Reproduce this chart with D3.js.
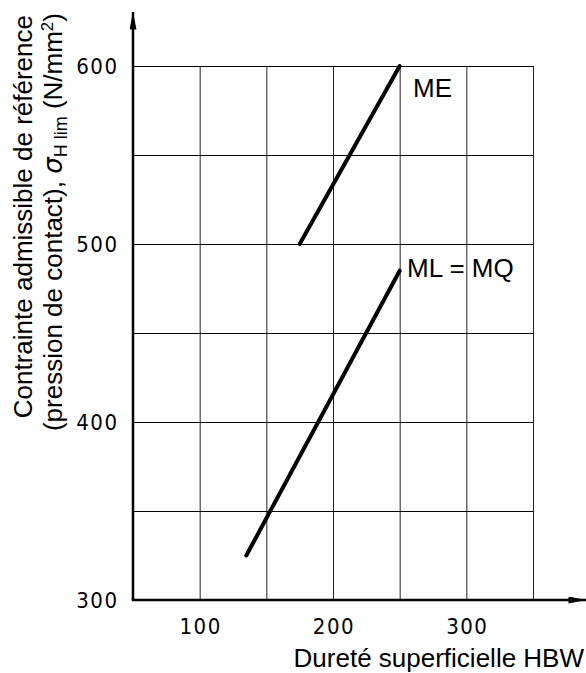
<!DOCTYPE html>
<html>
<head>
<meta charset="utf-8">
<script src="https://cdn.jsdelivr.net/npm/d3@7"></script>
<style>
  body { margin: 0; background: #fff; }
  .tick-label { font-family: "DejaVu Sans Condensed", "DejaVu Sans"; font-size: 22px; letter-spacing: 1.5px; fill: #000; }
  .title { font-family: "Liberation Sans", Arial, sans-serif; font-size: 26px; fill: #000; }
</style>
</head>
<body>
<svg id="chart" width="586" height="673"></svg>
<script>
//

const hardnessTicks = [100, 200, 300]
const stressTicks = [300, 400, 500, 600]
const gridX = [100, 150, 200, 250, 300, 350]
const gridY = [350, 400, 450, 500, 550, 600]

// material quality lines: [HBW, sigma_H lim]
const lineME = [[175, 500], [250, 600]]
const lineMLMQ = [[135, 325], [250, 485]]

const seriesNames = ['ME', 'ML = MQ']

//

const svg = d3.select('#chart')

const x = d3.scaleLinear().domain([50, 350]).range([133, 533])
const y = d3.scaleLinear().domain([300, 600]).range([600, 66])

// grid
svg.append('g')
  .attr('transform', `translate(0, ${y(300)})`)
  .call(d3.axisBottom(x).tickValues(gridX).tickSize(-(y(300) - y(600))).tickFormat(''))
  .call(g => g.select('.domain').remove())
  .call(g => g.selectAll('line').attr('stroke', '#222').attr('stroke-width', 1))

svg.append('g')
  .attr('transform', `translate(${x(50)}, 0)`)
  .call(d3.axisLeft(y).tickValues(gridY).tickSize(-(x(350) - x(50))).tickFormat(''))
  .call(g => g.select('.domain').remove())
  .call(g => g.selectAll('line').attr('stroke', '#000').attr('stroke-width', 1.2))

// arrows
const defs = svg.append('defs')
defs.append('marker')
  .attr('id', 'arrow')
  .attr('viewBox', '0 0 20 8')
  .attr('refX', 20).attr('refY', 4)
  .attr('markerUnits', 'userSpaceOnUse')
  .attr('markerWidth', 20).attr('markerHeight', 7)
  .attr('orient', 'auto')
  .append('path')
  .attr('d', 'M0,0 L20,4 L0,8 Z')
  .attr('fill', '#000')

// axes
svg.append('line')
  .attr('x1', x(50)).attr('y1', y(300))
  .attr('x2', x(50)).attr('y2', 12)
  .attr('stroke', '#000').attr('stroke-width', 2.5)
  .attr('marker-end', 'url(#arrow)')

svg.append('line')
  .attr('x1', x(50) - 1.25).attr('y1', y(300))
  .attr('x2', 586).attr('y2', y(300))
  .attr('stroke', '#000').attr('stroke-width', 2.5)
  .attr('marker-end', 'url(#arrow)')

// tick labels
svg.append('g').selectAll('text')
  .data(stressTicks)
  .join('text')
  .attr('class', 'tick-label')
  .attr('x', 118.5)
  .attr('y', d => y(d) + 8)
  .attr('text-anchor', 'end')
  .text(d => d)

svg.append('g').selectAll('text')
  .data(hardnessTicks)
  .join('text')
  .attr('class', 'tick-label')
  .attr('x', d => x(d) + 1)
  .attr('y', 634)
  .attr('text-anchor', 'middle')
  .text(d => d)

// data lines
const line = d3.line().x(d => x(d[0])).y(d => y(d[1]))
svg.selectAll('.series')
  .data([lineME, lineMLMQ])
  .join('path')
  .attr('class', 'series')
  .attr('d', line)
  .attr('fill', 'none')
  .attr('stroke', '#000')
  .attr('stroke-width', 4)
  .attr('stroke-linecap', 'round')

// series labels
svg.append('text').attr('class', 'title')
  .attr('x', 413).attr('y', 97)
  .text(seriesNames[0])

svg.append('text').attr('class', 'title')
  .attr('x', 407).attr('y', 277)
  .text(seriesNames[1])

// axis titles
svg.append('text').attr('class', 'title')
  .attr('x', 584).attr('y', 667)
  .attr('text-anchor', 'end')
  .text('Dureté superficielle HBW')

const yTitle = svg.append('g').attr('transform', 'rotate(-90)')
yTitle.append('text').attr('class', 'title')
  .attr('x', -15).attr('y', 32)
  .attr('text-anchor', 'end')
  .text('Contrainte admissible de référence')

const t2 = yTitle.append('text').attr('class', 'title')
  .attr('x', -13).attr('y', 62)
  .attr('text-anchor', 'end')
t2.append('tspan').text('(pression de contact),  ')
t2.append('tspan').attr('font-family', 'DejaVu Sans').attr('font-style', 'italic').text('σ')
t2.append('tspan').attr('font-size', 18).attr('dy', 5).text('H lim')
t2.append('tspan').attr('dy', -5).text(' (N/mm')
t2.append('tspan').attr('font-size', 17).attr('dy', -9).text('2')
t2.append('tspan').attr('dy', 9).text(')')
</script>
</body>
</html>
